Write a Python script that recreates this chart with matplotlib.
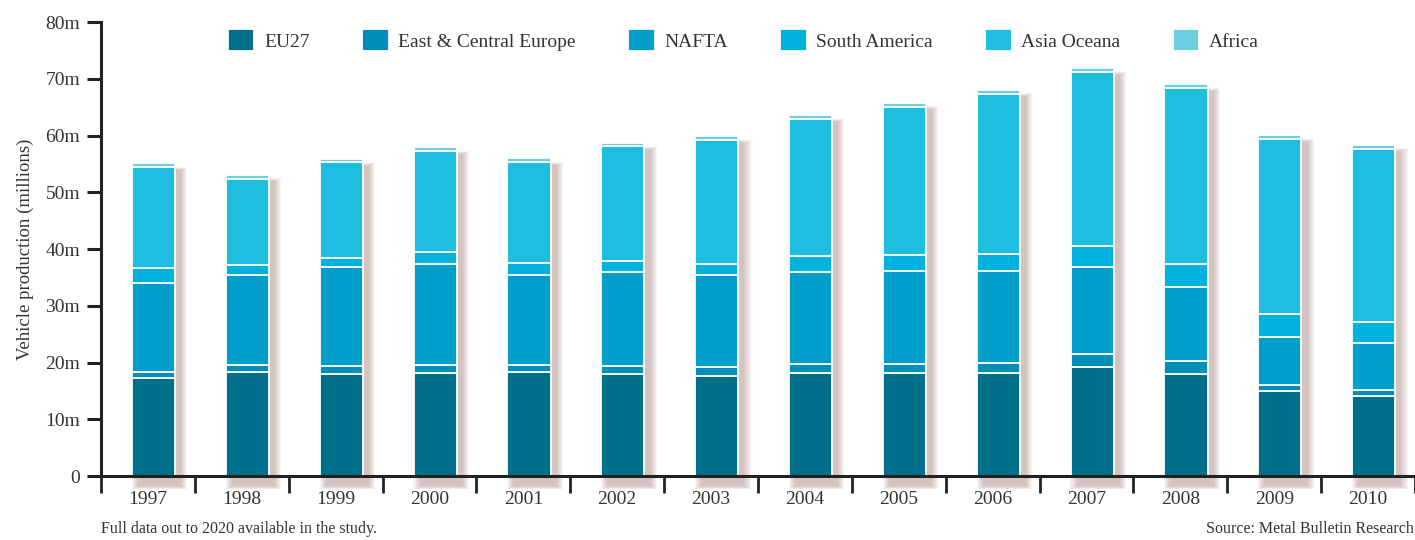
import numpy as np
import matplotlib
matplotlib.use('Agg')
import matplotlib.pyplot as plt
from matplotlib.patches import Rectangle

plt.rcParams['font.family'] = ['Liberation Serif', 'DejaVu Serif']

# data (millions of vehicles)
years = ['1997', '1998', '1999', '2000', '2001', '2002', '2003',
         '2004', '2005', '2006', '2007', '2008', '2009', '2010']
eu27 = [17.2, 18.3, 18.0, 18.1, 18.3, 17.9, 17.7, 18.2, 18.1, 18.2, 19.2, 18.0, 14.9, 14.1]
east_central = [1.1, 1.3, 1.3, 1.4, 1.3, 1.4, 1.5, 1.5, 1.6, 1.8, 2.3, 2.2, 1.1, 1.0]
nafta = [15.7, 15.8, 17.5, 17.9, 15.8, 16.6, 16.3, 16.3, 16.4, 16.2, 15.4, 13.1, 8.5, 8.3]
south_america = [2.7, 1.8, 1.7, 2.0, 2.2, 2.0, 1.8, 2.8, 2.9, 3.0, 3.7, 4.0, 4.1, 3.7]
asia_oceana = [17.7, 15.1, 16.8, 17.9, 17.8, 20.2, 21.9, 24.2, 26.1, 28.2, 30.6, 31.0, 30.7, 30.6]
africa = [0.7, 0.8, 0.6, 0.6, 0.6, 0.6, 0.7, 0.6, 0.7, 0.7, 0.7, 0.7, 0.8, 0.7]

series = [('EU27', eu27, '#00708a'),
          ('East & Central Europe', east_central, '#008fb8'),
          ('NAFTA', nafta, '#009ecb'),
          ('South America', south_america, '#00b2dd'),
          ('Asia Oceana', asia_oceana, '#1dbee0'),
          ('Africa', africa, '#6dcde1')]

fig = plt.figure(figsize=(14.15, 5.4), dpi=100)
ax = fig.add_axes([0.0714, 0.1185, 0.9286, 0.8407])

x = np.arange(len(years))
xb = x + 0.06
width = 0.46
totals = np.sum([s[1] for s in series], axis=0)

# soft drop shadow to the right of each bar
for xi, tot in zip(xb, totals):
    for k in range(7):
        grow = 0.011 * k
        ax.add_patch(Rectangle((xi - width / 2 + 0.065 - grow, -1.8 - grow * 8),
                               width + 2 * grow, tot + 0.6 + grow * 16,
                               facecolor='#a07a72', edgecolor='none',
                               alpha=0.075, zorder=1, clip_on=False))

bottom = np.zeros(len(years))
for name, vals, col in series:
    ax.bar(xb, vals, width, bottom=bottom, color=col, edgecolor='white',
           linewidth=1.3, label=name, zorder=3)
    bottom += np.array(vals)

ax.set_xlim(-0.5, 13.5)
ax.set_ylim(0, 80)

for s in ['top', 'right']:
    ax.spines[s].set_visible(False)
for s in ['left', 'bottom']:
    ax.spines[s].set_linewidth(2.2)
    ax.spines[s].set_color('#222222')
ax.spines['bottom'].set_zorder(5)

ax.set_yticks(np.arange(0, 81, 10))
ax.set_yticklabels(['0'] + ['%dm' % v for v in range(10, 81, 10)])
ax.tick_params(axis='y', length=10, width=2.2, color='#222222',
               labelsize=14, labelcolor='#333333', pad=5)

ax.set_xticks(np.arange(-0.5, 13.6, 1))
ax.set_xticklabels([])
ax.set_xticks(x, minor=True)
ax.set_xticklabels(years, minor=True)
ax.tick_params(axis='x', which='major', length=12, width=2, color='#222222')
ax.tick_params(axis='x', which='minor', length=0, labelsize=14,
               labelcolor='#333333', pad=11)

ax.set_ylabel('Vehicle production (millions)', fontsize=13.5, color='#333333',
              labelpad=8)

ax.legend(loc='center', bbox_to_anchor=(0.489, 0.96), ncol=6, frameon=False,
          fontsize=14, handlelength=1.35, handleheight=1.35, handletextpad=0.5,
          columnspacing=2.7, labelcolor='#333333')

fig.text(0.0714, 0.006, 'Full data out to 2020 available in the study.',
         fontsize=11.5, color='#333333', ha='left', va='bottom')
fig.text(0.999, 0.006, 'Source: Metal Bulletin Research', fontsize=11.5,
         color='#333333', ha='right', va='bottom')

fig.savefig('out.png', dpi=100)
